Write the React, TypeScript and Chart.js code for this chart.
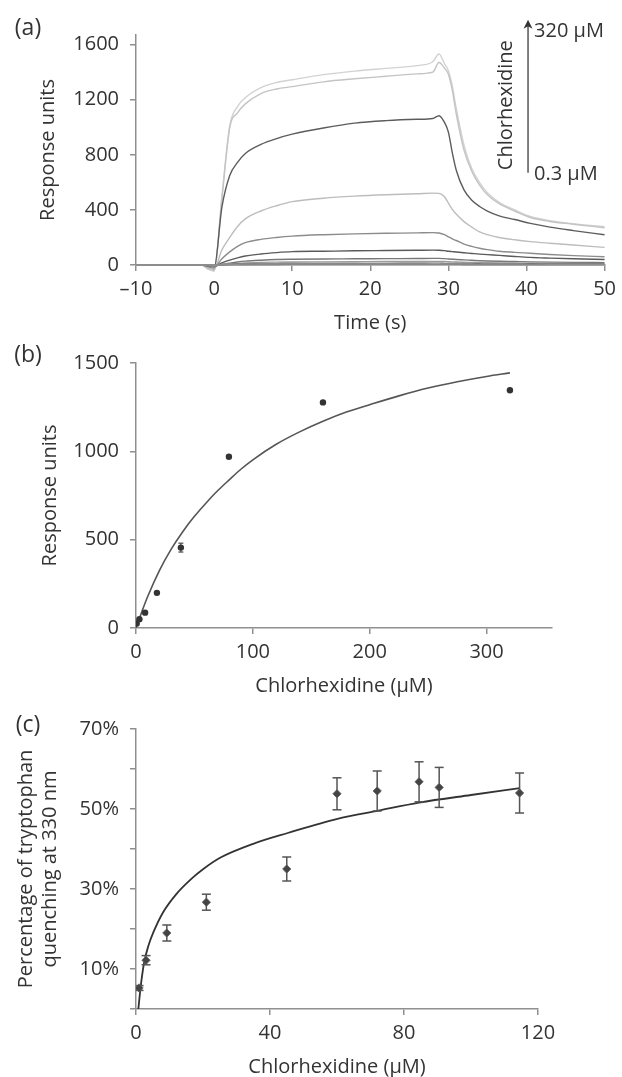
import React, { useEffect, useRef } from 'react';
import { Chart, registerables } from 'chart.js';

Chart.register(...registerables);

const FONT = "'Open Sans', sans-serif";
const TEXT = '#333333';
const AXIS = '#8f8f8f';

// ---------- Panel (a): sensorgrams ----------
const timeS = [-10, -1.6, -0.8, 0, 1, 2, 3, 4, 6, 8, 10, 14, 18, 22, 26, 28, 28.8, 29.5, 30, 30.5, 31, 32, 33, 34, 35, 36.5, 38.5, 40.5, 43, 46, 50];
const ru320 = [0, 0, -30, -45, 500, 1010, 1150, 1215, 1288, 1325, 1345, 1382, 1408, 1428, 1448, 1476, 1532, 1462, 1410, 1300, 1140, 870, 700, 598, 525, 455, 400, 352, 322, 300, 278];
const ru160 = [0, 0, -25, -40, 480, 995, 1105, 1170, 1245, 1278, 1295, 1330, 1352, 1370, 1388, 1400, 1470, 1430, 1385, 1270, 1100, 835, 680, 580, 510, 445, 392, 345, 316, 296, 270];
const ru80 = [0, 0, -15, -25, 420, 650, 745, 810, 876, 918, 950, 995, 1030, 1048, 1058, 1064, 1084, 1035, 965, 816, 690, 545, 470, 425, 392, 357, 330, 302, 275, 250, 220];
const ru40 = [0, 0, -20, -30, 110, 200, 280, 335, 392, 430, 460, 485, 500, 510, 517, 522, 520, 495, 450, 404, 370, 315, 275, 240, 220, 200, 183, 170, 158, 145, 128];
const ru20 = [0, 0, -10, -15, 45, 95, 135, 162, 186, 200, 210, 220, 226, 230, 233, 235, 232, 220, 205, 190, 178, 152, 135, 122, 112, 100, 92, 85, 76, 68, 60];
const ru10 = [0, 0, -5, -8, 15, 35, 52, 65, 80, 90, 97, 100, 103, 105, 107, 108, 107, 104, 100, 97, 94, 89, 84, 79, 75, 70, 62, 55, 50, 45, 40];
const ru5 = [0, 0, -5, -8, 5, 14, 22, 28, 35, 40, 42, 44, 45, 46, 47, 48, 48, 46, 44, 42, 40, 37, 34, 31, 29, 27, 25, 23, 21, 19, 17];
const ru2_5 = [0, 0, -3, -5, 3, 8, 12, 15, 19, 21, 22, 23, 24, 25, 25, 26, 26, 25, 24, 23, 22, 20, 18, 17, 16, 15, 14, 13, 12, 11, 10];
const ru1_25 = [0, 0, -2, -3, 1, 4, 6, 8, 9, 10, 11, 12, 12, 12, 13, 13, 13, 12, 12, 11, 11, 10, 9, 9, 8, 8, 7, 7, 6, 6, 5];
const ru0_6 = [0, 0, -1, -2, 1, 2, 3, 4, 5, 5, 6, 6, 6, 6, 6, 7, 7, 6, 6, 6, 5, 5, 5, 4, 4, 4, 4, 3, 3, 3, 3];
const ru0_3 = [0, 0, -1, -1, 0, 1, 1, 2, 2, 2, 3, 3, 3, 3, 3, 3, 3, 3, 3, 3, 3, 2, 2, 2, 2, 2, 2, 2, 1, 1, 1];

const seriesA = [
  { label: '0.3 µM', values: ru0_3, color: '#888888' },
  { label: '0.6 µM', values: ru0_6, color: '#aaaaaa' },
  { label: '1.25 µM', values: ru1_25, color: '#6a6a6a' },
  { label: '2.5 µM', values: ru2_5, color: '#9a9a9a' },
  { label: '5 µM', values: ru5, color: '#777777' },
  { label: '10 µM', values: ru10, color: '#5a5a5a' },
  { label: '20 µM', values: ru20, color: '#8c8c8c' },
  { label: '40 µM', values: ru40, color: '#bdbdbd' },
  { label: '80 µM', values: ru80, color: '#5c5c5c' },
  { label: '160 µM', values: ru160, color: '#c4c4c4' },
  { label: '320 µM', values: ru320, color: '#d2d2d2' },
];

const xTicksA = [-10, 0, 10, 20, 30, 40, 50];
const yTicksA = [0, 400, 800, 1200, 1600];
const yMaxA = 1670;

// arrow annotation (in data units of panel a)
const ARROW_T = 40.2;
const ARROW_LOW_RU = 670;
const ARROW_HIGH_RU = 1780;
const LABEL_HIGH_RU = 1695;
const LABEL_LOW_RU = 655;
const LABEL_MID_RU = 1160;

// ---------- Panel (b): steady-state response ----------
const concB = [0.6, 2.9, 7.8, 17.9, 38.4, 79.5, 160, 320];
const ruB = [25, 50, 87, 199, 455, 969, 1277, 1346];
const errB = [0, 0, 0, 0, 25, 0, 0, 0];
const fitBx = [0, 5, 10, 20, 30, 40, 50, 60, 70, 80, 90, 100, 120, 140, 160, 180, 200, 225, 250, 275, 300, 320];
const fitBy = [0, 92, 178, 325, 445, 545, 632, 708, 778, 840, 900, 952, 1040, 1110, 1170, 1222, 1264, 1314, 1358, 1394, 1424, 1444];
const xTicksB = [0, 100, 200, 300];
const yTicksB = [0, 500, 1000, 1500];
const xMaxB = 356;

// ---------- Panel (c): tryptophan quenching ----------
const concC = [0.9, 3, 9.2, 21, 45, 60, 72, 84.5, 90.5, 114.5];
const pctC = [5.25, 12.2, 19, 26.7, 35, 53.8, 54.5, 56.8, 55.4, 54];
const errC = [0.6, 1.15, 2, 2, 3, 4, 5, 5, 5, 5];
const fitCx = [0.7, 1.4, 2.4, 3.7, 5.2, 8.1, 12.1, 16.6, 20.1, 25.1, 35, 45.3, 60.4, 72.4, 84.5, 100, 114.6];
const fitCy = [0, 5.6, 11.5, 15.8, 19.2, 24.2, 28.8, 32.6, 35.0, 37.8, 41.3, 44, 47.6, 49.6, 51.6, 53.5, 55.2];
const xTicksC = [0, 40, 80, 120];
const yTicksC = [0, 10, 20, 30, 40, 50, 60, 70];
const yLabelsC = [10, 30, 50, 70];

// ---------- helpers ----------
function font(size = 20) {
  return { family: FONT, size, lineHeight: 1.2 };
}

function axis(opts: any) {
  return {
    type: 'linear',
    position: opts.position,
    min: opts.min,
    max: opts.max,
    border: { display: true, color: AXIS, width: 1.5 },
    grid: {
      display: true,
      drawOnChartArea: false,
      drawTicks: true,
      tickLength: 6,
      color: AXIS,
      tickColor: AXIS,
      lineWidth: 1.5,
    },
    ticks: {
      autoSkip: false,
      maxRotation: 0,
      color: TEXT,
      font: font(20),
      padding: opts.position === 'left' ? 11 : 6,
      callback: opts.callback ?? ((v: number) => String(v)),
    },
    title: {
      display: true,
      text: opts.title,
      color: TEXT,
      font: font(20),
      padding: opts.position === 'left' ? { top: opts.titlePad ?? 4, bottom: 0 } : { top: 0, bottom: opts.titlePad ?? 3 },
    },
    afterBuildTicks: (scale: any) => {
      scale.ticks = opts.tickValues.map((v: number) => ({ value: v }));
    },
    afterFit: opts.afterFit,
  };
}

function errorBarData(xs: number[], ys: number[], errs: number[]) {
  const pts: any[] = [];
  xs.forEach((x, i) => {
    if (errs[i] > 0) {
      pts.push({ x, y: ys[i] - errs[i] });
      pts.push({ x, y: ys[i] + errs[i] });
      pts.push({ x, y: null });
    }
  });
  return pts;
}

const commonPlugins = {
  legend: { display: false },
  tooltip: { enabled: false },
};

const arrowAnnotation = {
  id: 'concArrow',
  afterDraw(chart: any) {
    const { ctx, scales } = chart;
    const x = scales.x;
    const y = scales.y;
    const ax = x.getPixelForValue(ARROW_T);
    const yLow = y.getPixelForValue(ARROW_LOW_RU);
    const yHigh = y.getPixelForValue(ARROW_HIGH_RU);
    ctx.save();
    ctx.strokeStyle = '#555555';
    ctx.lineWidth = 1.5;
    ctx.beginPath();
    ctx.moveTo(ax, yLow);
    ctx.lineTo(ax, yHigh + 5);
    ctx.stroke();
    ctx.fillStyle = '#333333';
    ctx.beginPath();
    ctx.moveTo(ax, yHigh);
    ctx.lineTo(ax - 4.5, yHigh + 9);
    ctx.lineTo(ax, yHigh + 6.5);
    ctx.lineTo(ax + 4.5, yHigh + 9);
    ctx.closePath();
    ctx.fill();
    ctx.font = `20px ${FONT}`;
    ctx.fillStyle = TEXT;
    ctx.textBaseline = 'middle';
    ctx.textAlign = 'left';
    ctx.fillText('320 µM', ax + 6, y.getPixelForValue(LABEL_HIGH_RU));
    ctx.fillText('0.3 µM', ax + 6, y.getPixelForValue(LABEL_LOW_RU));
    ctx.translate(ax - 22, y.getPixelForValue(LABEL_MID_RU));
    ctx.rotate(-Math.PI / 2);
    ctx.textAlign = 'center';
    ctx.fillText('Chlorhexidine', 0, 0);
    ctx.restore();
  },
};

function buildA(): any {
  return {
    type: 'line',
    data: {
      datasets: seriesA.map((s) => ({
        label: s.label,
        data: timeS.map((t, i) => ({ x: t, y: s.values[i] })),
        borderColor: s.color,
        borderWidth: 1.4,
        pointRadius: 0,
        cubicInterpolationMode: 'monotone',
        clip: false,
        fill: false,
      })),
    },
    options: {
      responsive: false,
      animation: false,
      events: [],
      layout: { padding: { left: 32, right: 11, top: 35, bottom: 2 } },
      plugins: commonPlugins,
      scales: {
        x: axis({
          position: 'bottom',
          min: xTicksA[0],
          max: xTicksA[xTicksA.length - 1],
          tickValues: xTicksA,
          title: 'Time (s)',
          callback: (v: number) => (v < 0 ? '–' + Math.abs(v) : String(v)),
          afterFit: (s: any) => { s.height = 73; },
        }),
        y: axis({
          position: 'left',
          min: 0,
          max: yMaxA,
          tickValues: yTicksA,
          title: 'Response units',
          afterFit: (s: any) => { s.width = 104; },
        }),
      },
    },
    plugins: [arrowAnnotation],
  };
}

function buildB(): any {
  return {
    type: 'line',
    data: {
      datasets: [
        {
          label: 'points',
          data: concB.map((c, i) => ({ x: c, y: ruB[i] })),
          showLine: false,
          pointRadius: 3.2,
          pointBackgroundColor: '#333333',
          pointBorderWidth: 0,
          order: 0,
        },
        {
          label: 'error',
          data: errorBarData(concB, ruB, errB),
          borderColor: '#555555',
          borderWidth: 1.3,
          spanGaps: false,
          pointStyle: 'line',
          pointRadius: 2.5,
          pointBorderColor: '#555555',
          pointBorderWidth: 1.3,
          order: 1,
        },
        {
          label: 'fit',
          data: fitBx.map((c, i) => ({ x: c, y: fitBy[i] })),
          borderColor: '#555555',
          borderWidth: 1.6,
          pointRadius: 0,
          cubicInterpolationMode: 'monotone',
          order: 2,
        },
      ],
    },
    options: {
      responsive: false,
      animation: false,
      events: [],
      layout: { padding: { left: 34, right: 70, top: 19, bottom: 0 } },
      plugins: commonPlugins,
      scales: {
        x: axis({
          position: 'bottom',
          min: 0,
          max: xMaxB,
          tickValues: xTicksB,
          title: 'Chlorhexidine (µM)',
          afterFit: (s: any) => { s.height = 73; },
        }),
        y: axis({
          position: 'left',
          min: 0,
          max: yTicksB[yTicksB.length - 1],
          tickValues: yTicksB,
          title: 'Response units',
          afterFit: (s: any) => { s.width = 102; },
        }),
      },
    },
  };
}

function buildC(): any {
  return {
    type: 'line',
    data: {
      datasets: [
        {
          label: 'points',
          data: concC.map((c, i) => ({ x: c, y: pctC[i] })),
          showLine: false,
          pointStyle: 'rectRot',
          pointRadius: 4.2,
          pointBackgroundColor: '#444444',
          pointBorderColor: '#666666',
          pointBorderWidth: 0.8,
          order: 0,
        },
        {
          label: 'error',
          data: errorBarData(concC, pctC, errC),
          borderColor: '#555555',
          borderWidth: 1.5,
          spanGaps: false,
          pointStyle: 'line',
          pointRadius: 4.5,
          pointBorderColor: '#555555',
          pointBorderWidth: 1.5,
          order: 1,
        },
        {
          label: 'fit',
          data: fitCx.map((c, i) => ({ x: c, y: fitCy[i] })),
          borderColor: '#333333',
          borderWidth: 1.8,
          pointRadius: 0,
          cubicInterpolationMode: 'monotone',
          order: 2,
        },
      ],
    },
    options: {
      responsive: false,
      animation: false,
      events: [],
      layout: { padding: { left: 12, right: 84, top: 28, bottom: 0 } },
      plugins: commonPlugins,
      scales: {
        x: axis({
          position: 'bottom',
          min: xTicksC[0],
          max: xTicksC[xTicksC.length - 1],
          tickValues: xTicksC,
          title: 'Chlorhexidine (µM)',
          titlePad: 0,
          afterFit: (s: any) => { s.height = 70; },
        }),
        y: axis({
          position: 'left',
          min: yTicksC[0],
          max: yTicksC[yTicksC.length - 1],
          tickValues: yTicksC,
          title: ['Percentage of tryptophan', 'quenching at 330 nm'],
          titlePad: 2,
          callback: (v: number) => (yLabelsC.includes(v) ? v + '%' : ''),
          afterFit: (s: any) => { s.width = 124; },
        }),
      },
    },
  };
}

function ChartCanvas({ top, height, build }: { top: number; height: number; build: () => any }) {
  const ref = useRef<HTMLCanvasElement>(null);
  useEffect(() => {
    const chart = new Chart(ref.current as HTMLCanvasElement, build());
    return () => chart.destroy();
  }, []);
  return (
    <canvas
      ref={ref}
      width={622}
      height={height}
      style={{ position: 'absolute', left: 0, top, width: 622, height }}
    />
  );
}

function PanelLabel({ text, x, y }: { text: string; x: number; y: number }) {
  return (
    <div
      style={{
        position: 'absolute',
        left: x,
        top: y,
        transform: 'translate(-50%, -50%)',
        fontFamily: FONT,
        fontSize: 23,
        lineHeight: 1,
        color: TEXT,
        whiteSpace: 'nowrap',
      }}
    >
      {text}
    </div>
  );
}

export default function App() {
  return (
    <div
      style={{
        position: 'fixed',
        left: 0,
        top: 0,
        width: 622,
        height: 1077,
        background: '#ffffff',
        overflow: 'hidden',
      }}
    >
      <ChartCanvas top={0} height={340} build={buildA} />
      <ChartCanvas top={340} height={361} build={buildB} />
      <ChartCanvas top={701} height={378} build={buildC} />
      <PanelLabel text="(a)" x={28} y={26} />
      <PanelLabel text="(b)" x={28} y={353} />
      <PanelLabel text="(c)" x={28} y={723} />
    </div>
  );
}
